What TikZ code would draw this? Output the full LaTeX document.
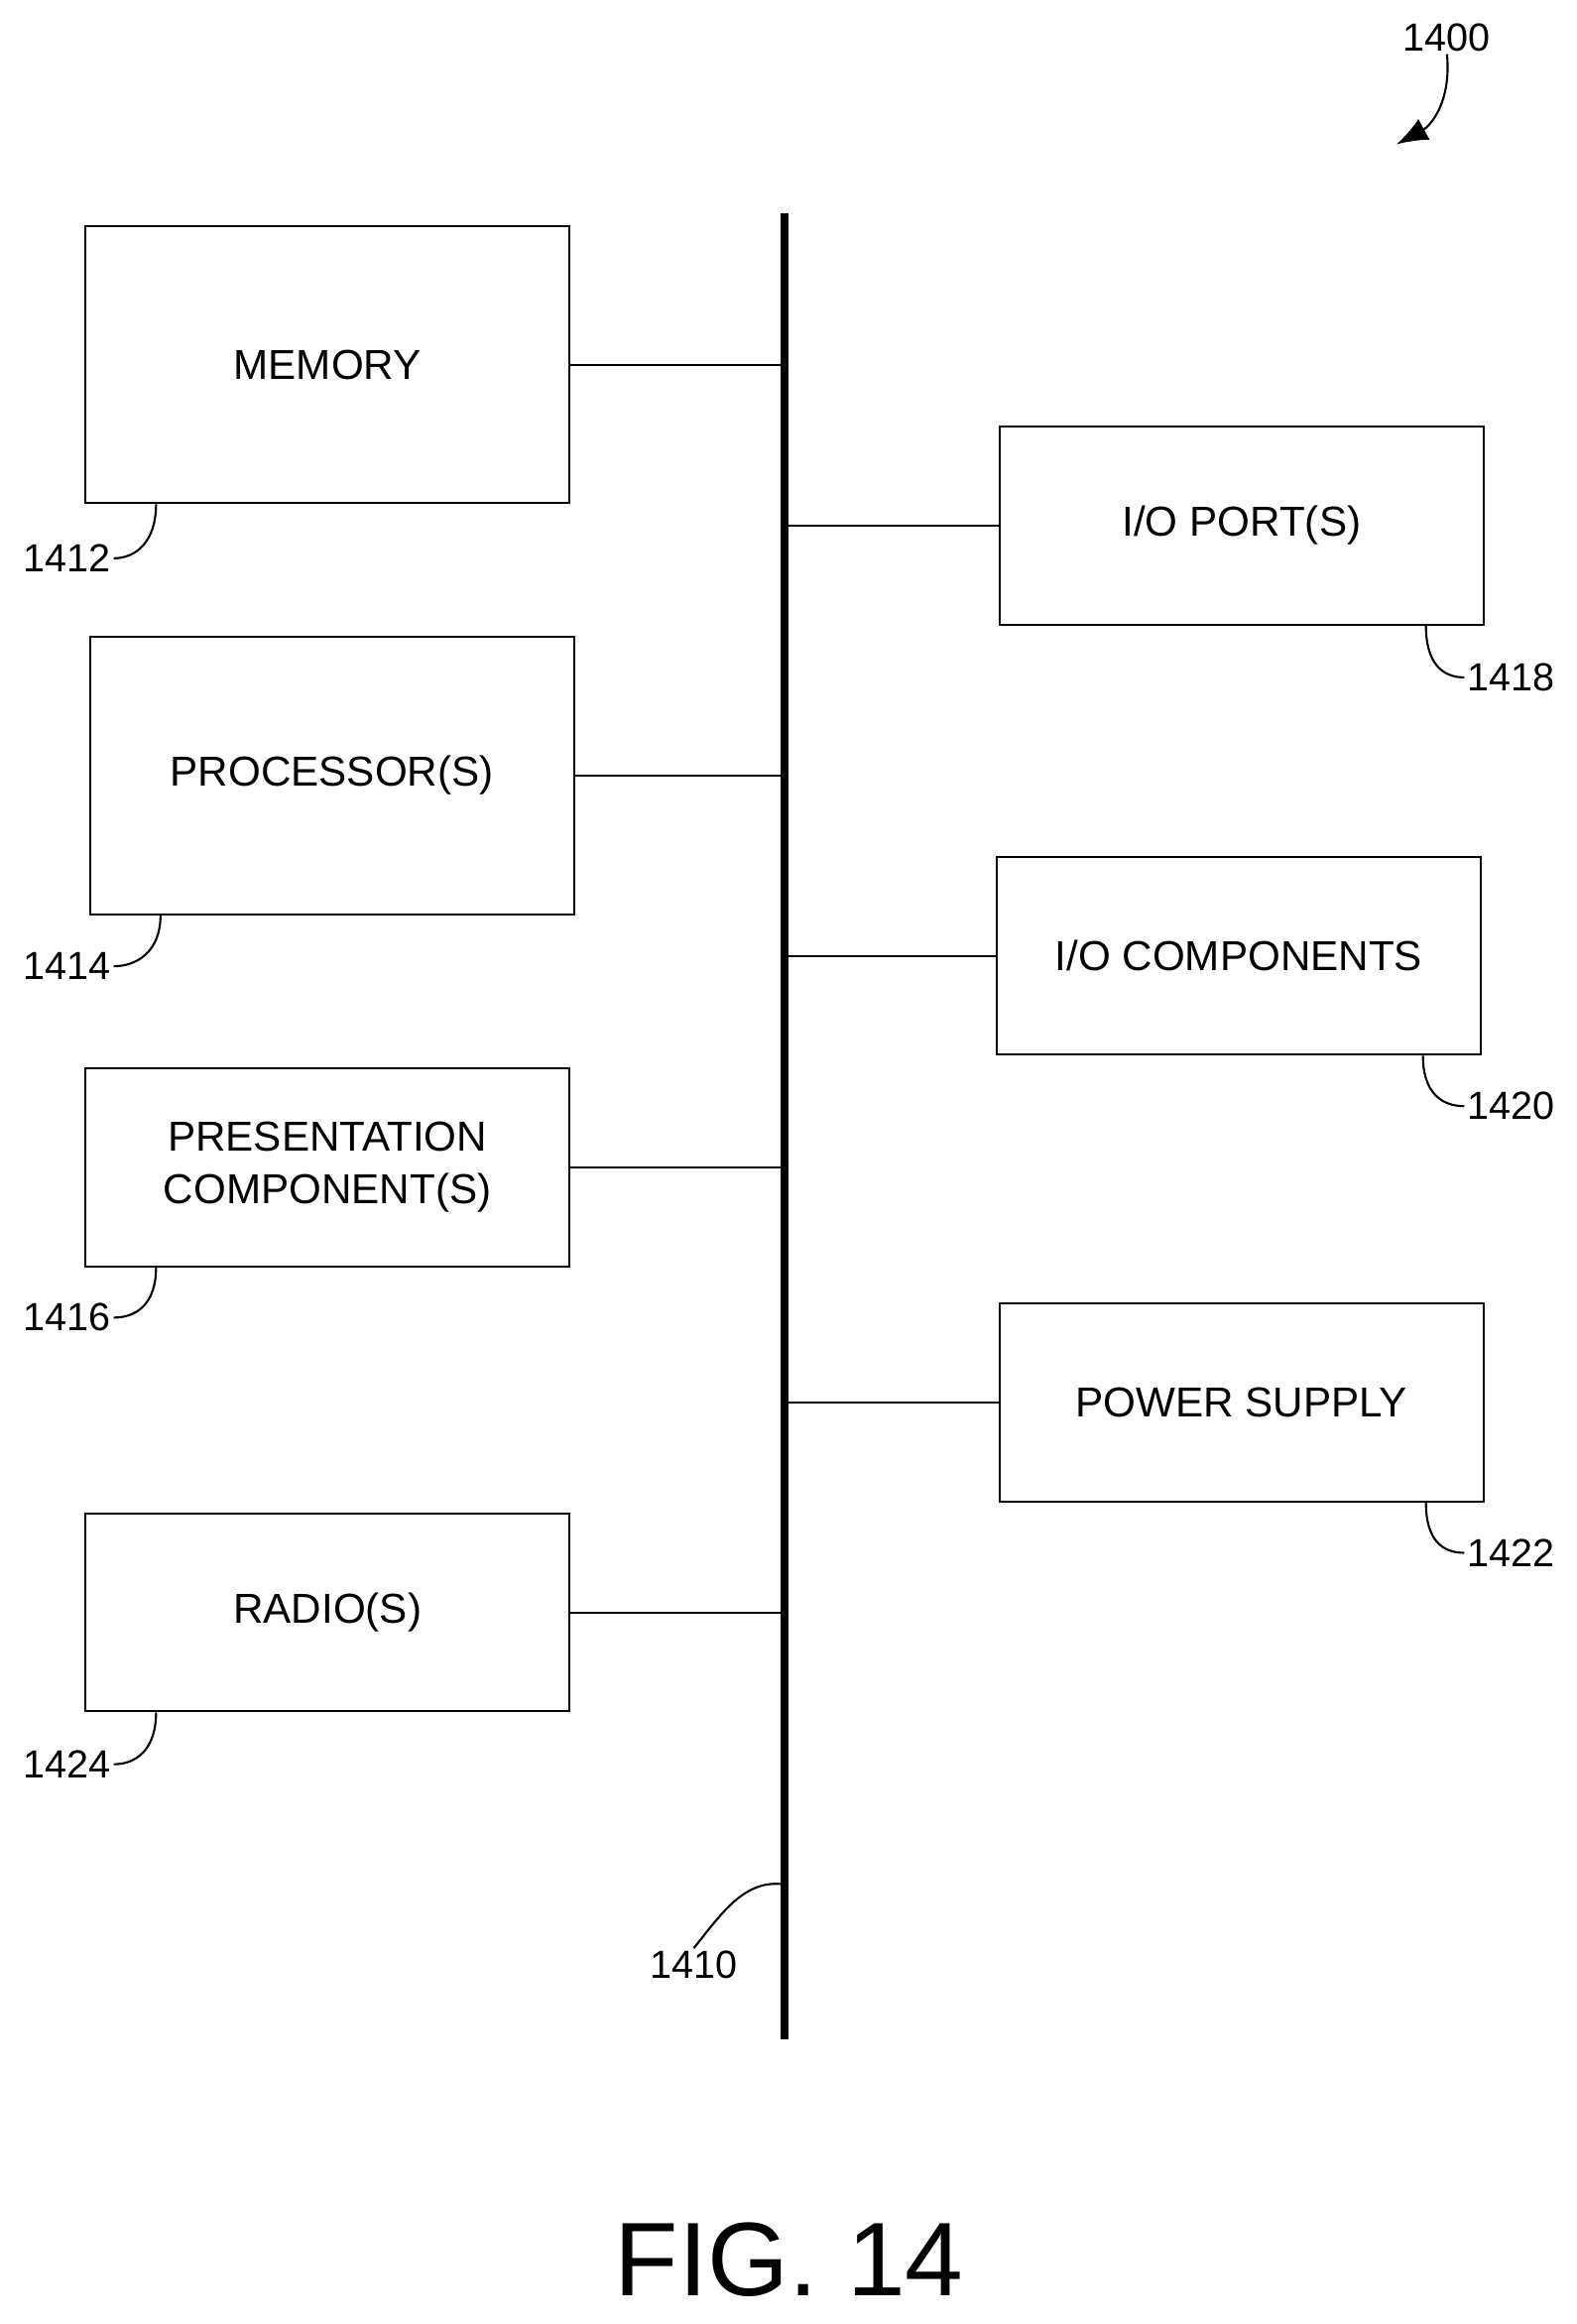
\documentclass[tikz,border=0pt]{standalone}
\usepackage{fontspec}
\setmainfont{Liberation Sans}
\usetikzlibrary{arrows.meta, calc}
\begin{document}
\begin{tikzpicture}[x=0.02cm, y=-0.02cm,
  box/.style={draw, line width=0.8pt, minimum width=6.5cm, align=center,
    font=\fontsize{16}{20}\selectfont},
  tall/.style={box, minimum height=3.72cm},
  short/.style={box, minimum height=2.66cm},
  ref/.style={font=\fontsize{15}{18}\selectfont, inner sep=1pt},
  lead/.style={line width=0.8pt}]

\useasboundingbox (0,0) rectangle (1059,1561);

% bus
\coordinate (bt) at (527,143);
\coordinate (bb) at (527,1370);
\draw[line width=3pt] (bt) -- (bb);

% left column
\node[tall]  (mem)  at (220,245)  {MEMORY};
\node[tall]  (proc) at (223,521)  {PROCESSOR(S)};
\node[short] (pres) at (220,784)  {PRESENTATION\\COMPONENT(S)};
\node[short] (rad)  at (220,1083) {RADIO(S)};

% right column
\node[short] (iop)  at (834,353)  {I/O PORT(S)};
\node[short] (ioc)  at (832,642)  {I/O COMPONENTS};
\node[short] (pwr)  at (834,942)  {POWER SUPPLY};

% links to bus
\foreach \n in {mem, proc, pres, rad}
  \draw[lead] (\n.east) -- (\n.east -| bt);
\foreach \n in {iop, ioc, pwr}
  \draw[lead] (\n.west) -- (\n.west -| bt);

% reference numerals
\node[ref] (l1412) at (45,375)   {1412};
\node[ref] (l1414) at (45,649)   {1414};
\node[ref] (l1416) at (45,885)   {1416};
\node[ref] (l1424) at (45,1185)  {1424};
\node[ref] (l1418) at (1015,455) {1418};
\node[ref] (l1420) at (1015,743) {1420};
\node[ref] (l1422) at (1015,1043){1422};
\node[ref] (l1410) at (466,1320) {1410};
\node[ref] (l1400) at (972,25)   {1400};

\foreach \n/\l in {mem/l1412, proc/l1414, pres/l1416, rad/l1424}
  \draw[lead] ($(\n.south west)+(48,0)$) .. controls +(0,25) and +(15,0) .. (\l.east);
\foreach \n/\l in {iop/l1418, ioc/l1420, pwr/l1422}
  \draw[lead] ($(\n.south west)+(287,0)$) .. controls +(0,25) and +(-15,0) .. (\l.west);
\draw[lead] ($(bt)!0.915!(bb)$) .. controls (500,1262) and (485,1285) .. (l1410.north);
\draw[lead, -{Latex[length=12pt, width=9pt]}] (l1400.south) .. controls (975,70) and (960,85) .. (938,97);

\node[font=\fontsize{40}{46}\selectfont] (fig) at (530,1518) {FIG. 14};
\end{tikzpicture}
\end{document}
